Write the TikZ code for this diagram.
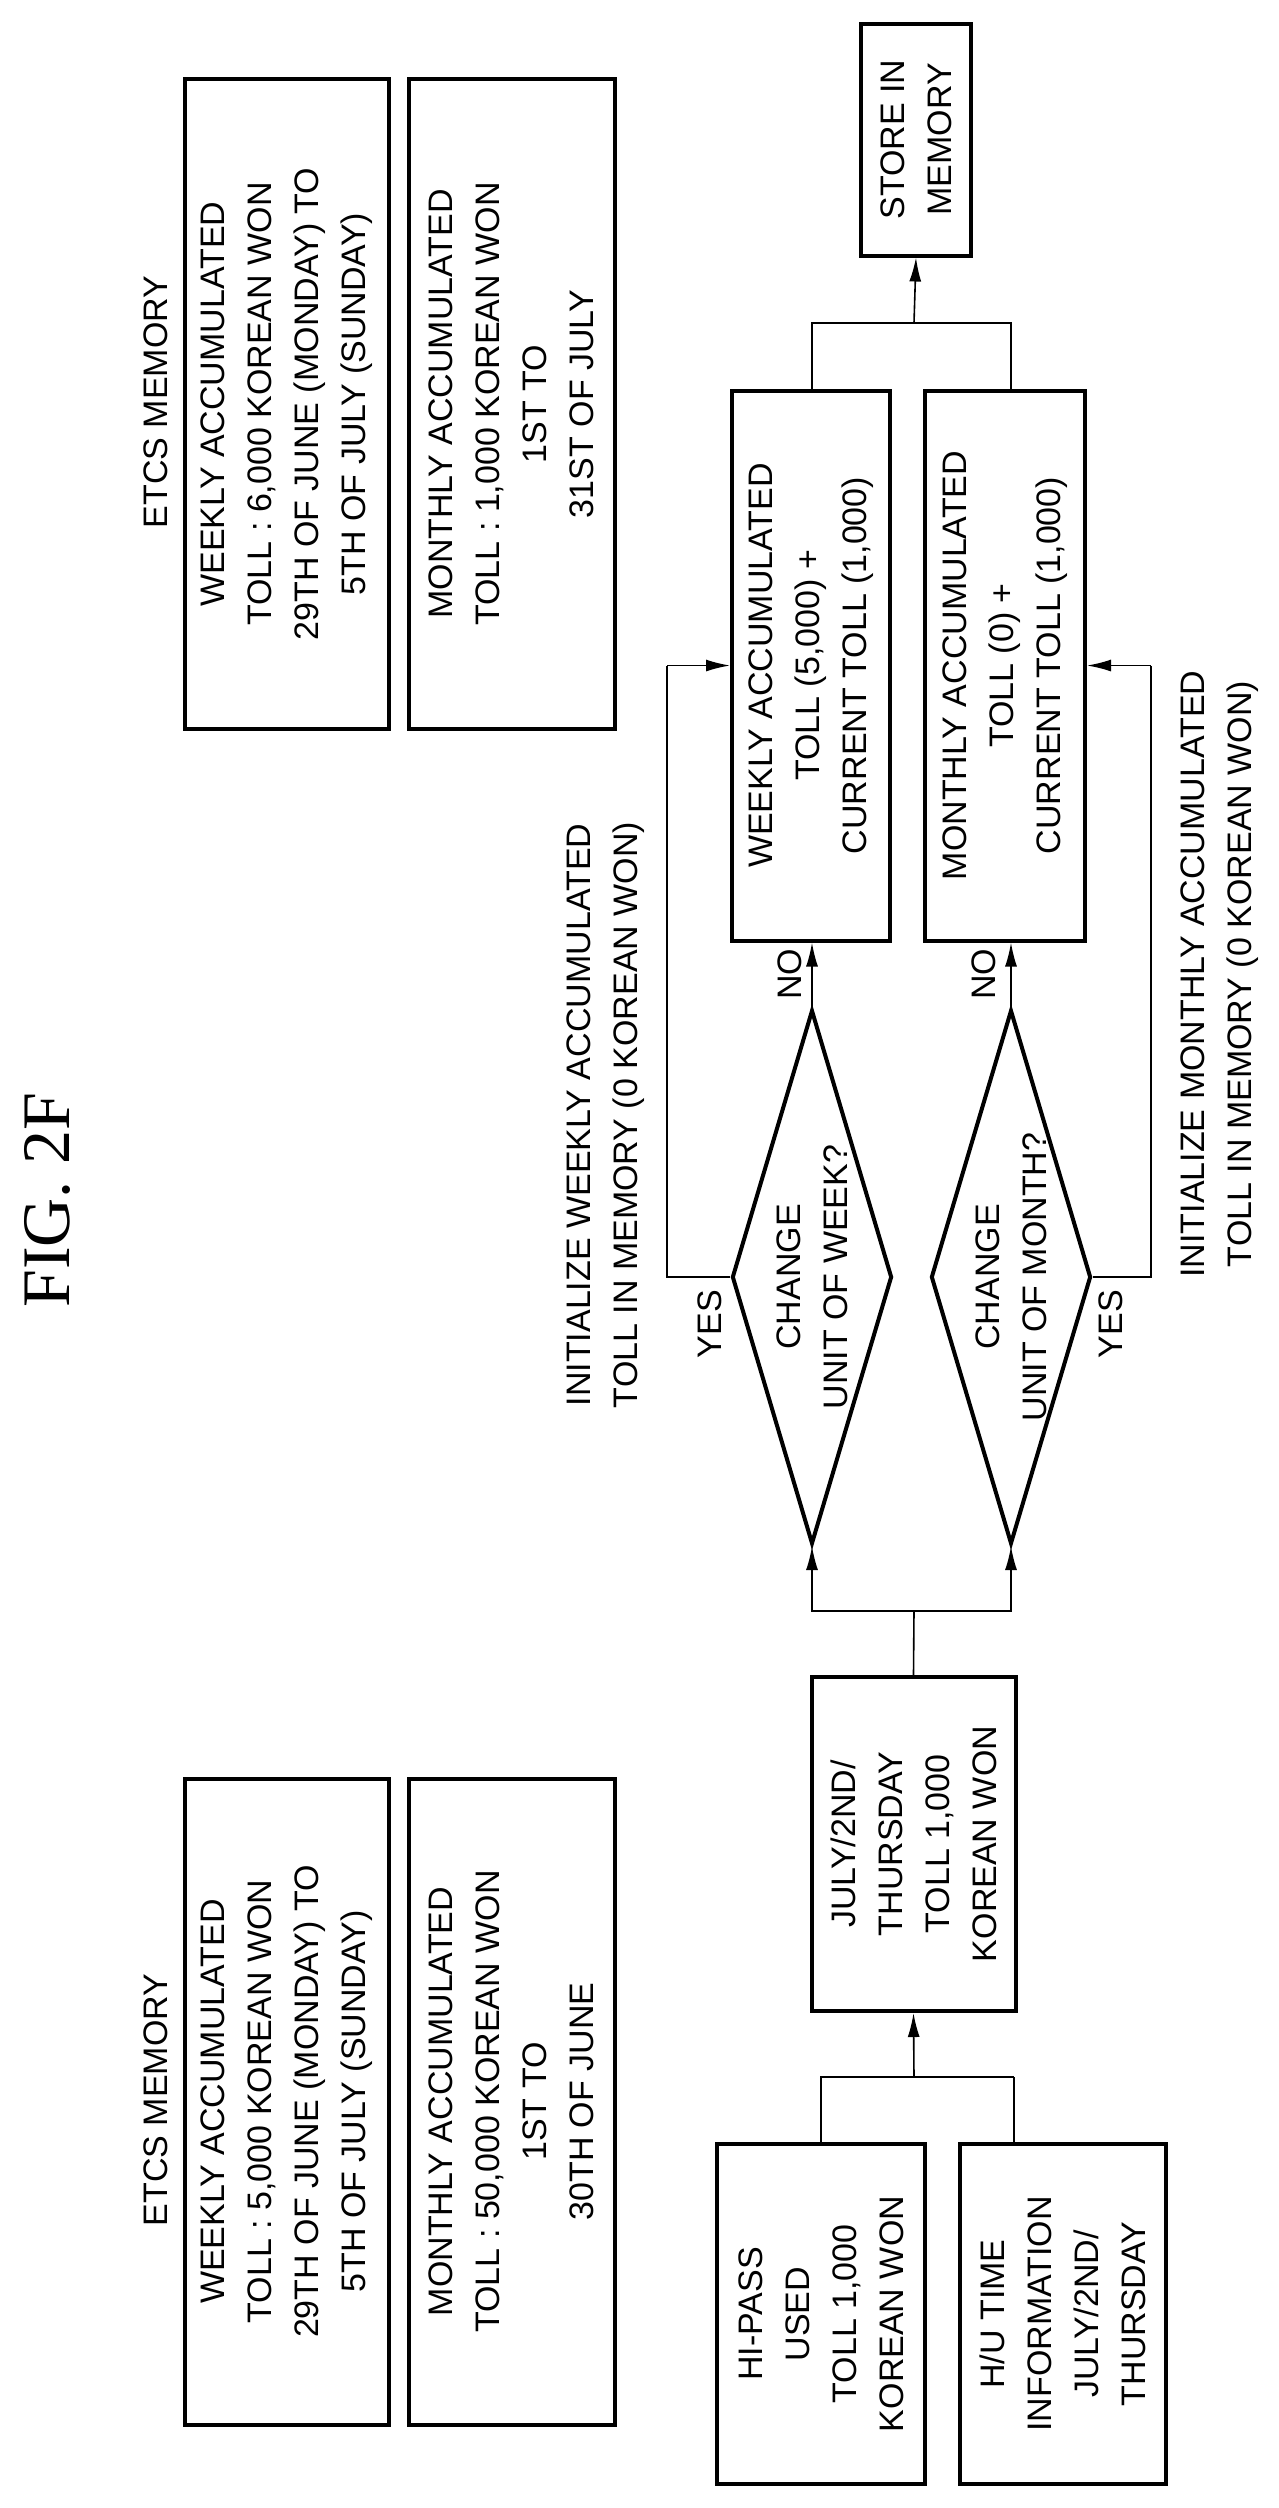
\documentclass[tikz,border=0pt]{standalone}
\usepackage{fontspec}
\setmainfont{Liberation Sans}
\newfontfamily\figfont{Liberation Serif}
\usetikzlibrary{shapes.geometric,arrows.meta}

\tikzset{
  box/.style={draw, line width=2pt, rotate=90, align=center, inner sep=0pt,
    font=\fontsize{17}{23.5}\selectfont},
  dia/.style={draw, diamond, line width=2pt, rotate=90, inner sep=0pt},
  lbl/.style={rotate=90, align=center, inner sep=0pt,
    font=\fontsize{17}{23.5}\selectfont},
  arr/.style={-{Latex[length=12pt,width=6pt]}},
  con/.style={line width=0.8pt}
}

\begin{document}
\begin{tikzpicture}[x=0.5pt,y=-0.5pt]
\useasboundingbox (0,0) rectangle (1279,2508);

% title
\node[rotate=90, inner sep=0pt, font=\figfont\fontsize{34}{40}\selectfont] (title) at (47,1200) {FIG. 2F};

% memory after
\node[lbl] (toplbl) at (156,402) {ETCS MEMORY};
\node[box, minimum width=325pt, minimum height=102pt] (topweek) at (286.5,404)
  {WEEKLY ACCUMULATED\\TOLL : 6,000 KOREAN WON\\29TH OF JUNE (MONDAY) TO\\5TH OF JULY (SUNDAY)};
\node[box, minimum width=325pt, minimum height=103pt] (topmonth) at (511.5,404)
  {MONTHLY ACCUMULATED\\TOLL : 1,000 KOREAN WON\\1ST TO\\31ST OF JULY};

% memory before
\node[lbl] (botlbl) at (156,2100) {ETCS MEMORY};
\node[box, minimum width=323pt, minimum height=102pt] (botweek) at (286.5,2101.5)
  {WEEKLY ACCUMULATED\\TOLL : 5,000 KOREAN WON\\29TH OF JUNE (MONDAY) TO\\5TH OF JULY (SUNDAY)};
\node[box, minimum width=323pt, minimum height=103pt] (botmonth) at (511.5,2101.5)
  {MONTHLY ACCUMULATED\\TOLL : 50,000 KOREAN WON\\1ST TO\\30TH OF JUNE};

% inputs
\node[box, minimum width=170pt, minimum height=104pt] (hipass) at (821,2314)
  {HI-PASS\\USED\\TOLL 1,000\\KOREAN WON};
\node[box, minimum width=170pt, minimum height=103pt] (hutime) at (1062.5,2314)
  {H/U TIME\\INFORMATION\\JULY/2ND/\\THURSDAY};
\node[box, minimum width=167pt, minimum height=102pt] (july) at (913.5,1844)
  {JULY/2ND/\\THURSDAY\\TOLL 1,000\\KOREAN WON};

% decisions
\node[dia, minimum width=267pt, minimum height=80pt] (dweek) at (812,1277) {};
\node[lbl] (dweektxt) at (dweek) {CHANGE\\UNIT OF WEEK?};
\node[dia, minimum width=267pt, minimum height=80pt] (dmonth) at (1011,1277) {};
\node[lbl] (dmonthtxt) at (dmonth) {CHANGE\\UNIT OF MONTH?};

% sums
\node[box, minimum width=275pt, minimum height=79pt] (calcweek) at (811,665.5)
  {WEEKLY ACCUMULATED\\TOLL (5,000) +\\CURRENT TOLL (1,000)};
\node[box, minimum width=275pt, minimum height=80pt] (calcmonth) at (1005,665.5)
  {MONTHLY ACCUMULATED\\TOLL (0) +\\CURRENT TOLL (1,000)};
\node[box, minimum width=116pt, minimum height=55pt] (store) at (916,139.5)
  {STORE IN\\MEMORY};

% notes
\node[lbl] (initweek) at (606,1115) {INITIALIZE WEEKLY ACCUMULATED\\TOLL IN MEMORY (0 KOREAN WON)};
\node[lbl] (initmonth) at (1220,974) {INITIALIZE MONTHLY ACCUMULATED\\TOLL IN MEMORY (0 KOREAN WON)};
\node[lbl, anchor=south west] (noweek) at (802,1000) {NO};
\node[lbl, anchor=south west] (nomonth) at (996,1000) {NO};
\node[lbl] (yesweek) at (710,1324) {YES};
\node[lbl] (yesmonth) at (1111,1324) {YES};

% junctions
\coordinate (jin) at (914,2077);
\coordinate (jhu) at (1014,2077);
\coordinate (jdec) at (914,1611);
\coordinate (jout) at (914,323);
\coordinate (fbw) at (667,665.5);
\coordinate (fbm) at (1151,665.5);

\draw[con] (hipass.east) |- (jin);
\draw[con] (jhu) -- (jhu |- hutime.east);
\draw[con] (jin) -- (jhu);
\draw[con,arr] (jin) -- (july.west);
\draw[con] (july.east) -- (jdec);
\draw[con,arr] (jdec) -| (dweek.west);
\draw[con,arr] (jdec) -| (dmonth.west);
\draw[con,arr] (dweek.east) -- (calcweek.west -| dweek.east);
\draw[con,arr] (dmonth.east) -- (calcmonth.west -| dmonth.east);
\draw[con] (dweek.north) -- (dweek.north -| fbw) -- (fbw);
\draw[con,arr] (fbw) -- (calcweek.north);
\draw[con] (dmonth.south) -- (dmonth.south -| fbm) -- (fbm);
\draw[con,arr] (fbm) -- (calcmonth.south);
\draw[con] (calcweek.east -| dweek) |- (jout);
\draw[con] (calcmonth.east -| dmonth) |- (jout);
\draw[con,arr] (jout) -- (store.west);
\end{tikzpicture}
\end{document}
